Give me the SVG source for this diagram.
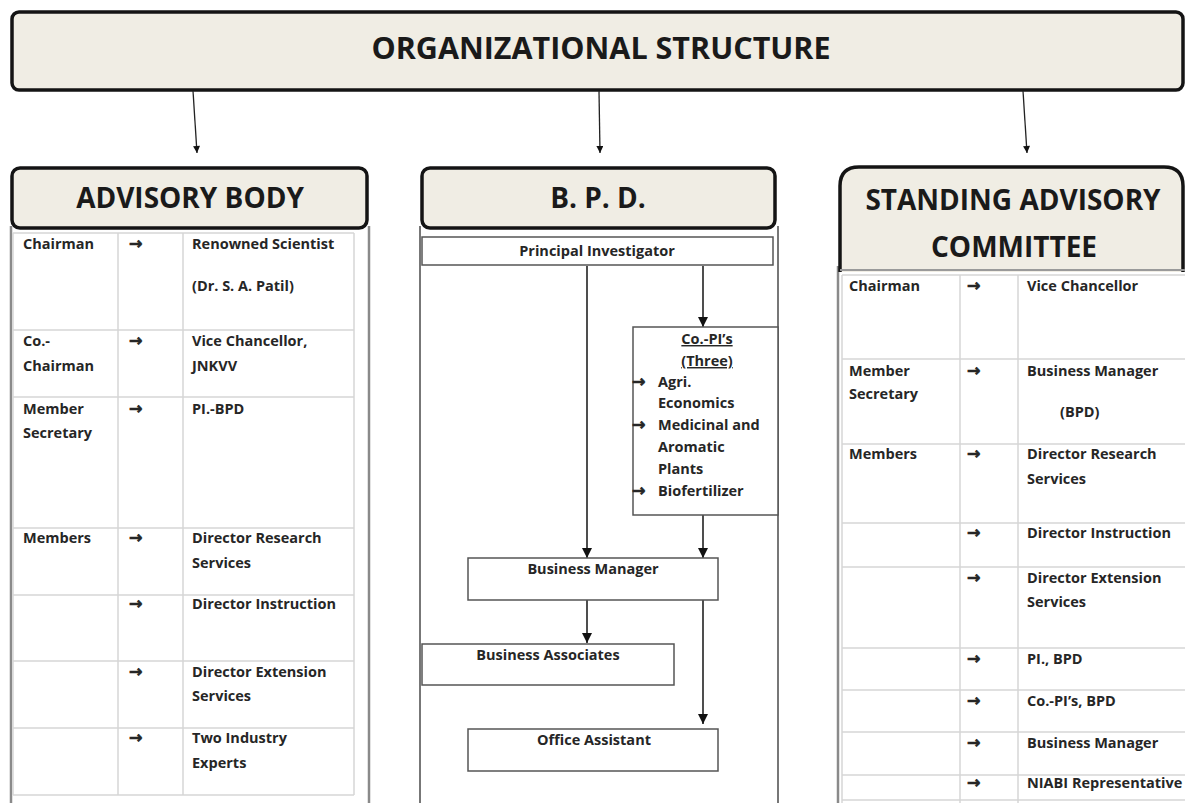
<svg xmlns="http://www.w3.org/2000/svg" width="1185" height="803" viewBox="0 0 1185 803">
  <defs>
    <marker id="tip" viewBox="0 0 10 10" refX="10" refY="5" markerWidth="9" markerHeight="7" markerUnits="userSpaceOnUse" orient="auto">
      <path d="M0,0 L10,5 L0,10 z" fill="#111"/>
    </marker>
    <marker id="tipBig" viewBox="0 0 10 10" refX="10" refY="5" markerWidth="11" markerHeight="10" markerUnits="userSpaceOnUse" orient="auto">
      <path d="M0,0 L10,5 L0,10 z" fill="#111"/>
    </marker>
    <style>
      .hdr { fill: #f0ede4; stroke: #141414; stroke-width: 3.5; }
      .htxt { font-family: "Open Sans", "Liberation Sans", sans-serif; font-weight: 700; fill: #1a1a1a; text-anchor: middle; }
      .t { font-family: "Open Sans", "DejaVu Sans", sans-serif; font-weight: 700; font-size: 14.5px; fill: #262626; }
      .ar { font-family: "DejaVu Sans", sans-serif; font-weight: 700; font-size: 16px; fill: #262626; stroke: #262626; stroke-width: 0.7; }
      .c { text-anchor: middle; }
      .grid { stroke: #d6d6d6; stroke-width: 1.5; fill: none; }
      .frame { stroke: #8a8a8a; stroke-width: 2.5; fill: none; }
      .bframe { stroke: #4a4a4a; stroke-width: 1.5; fill: none; }
      .box { fill: #fff; stroke: #555; stroke-width: 1.5; }
      .link { stroke: #222; stroke-width: 1.3; fill: none; }
      .link2 { stroke: #222; stroke-width: 1.6; fill: none; }
    </style>
  </defs>
  <rect width="1185" height="803" fill="#fff"/>

  <!-- top title -->
  <g id="title">
    <rect x="12" y="12" width="1171" height="78" rx="7" class="hdr"/>
    <text x="601" y="59" class="htxt" font-size="30.5">ORGANIZATIONAL STRUCTURE</text>
  </g>

  <!-- connectors -->
  <g id="connectors">
    <line x1="193" y1="91" x2="197" y2="153" class="link" marker-end="url(#tip)"/>
    <line x1="599" y1="91" x2="600" y2="153" class="link" marker-end="url(#tip)"/>
    <line x1="1023" y1="91" x2="1027" y2="153" class="link" marker-end="url(#tip)"/>
    <line x1="703" y1="266" x2="703" y2="327" class="link2" marker-end="url(#tipBig)"/>
    <line x1="587" y1="266" x2="587" y2="558" class="link2" marker-end="url(#tipBig)"/>
    <line x1="703" y1="515" x2="703" y2="558" class="link2" marker-end="url(#tipBig)"/>
    <line x1="587" y1="600" x2="587" y2="643" class="link2" marker-end="url(#tipBig)"/>
    <line x1="703" y1="600" x2="703" y2="724" class="link2" marker-end="url(#tipBig)"/>
  </g>

  <!-- advisory body -->
  <g id="advisory-body">
    <line x1="11" y1="226" x2="11" y2="803" class="frame"/>
    <line x1="369" y1="226" x2="369" y2="803" class="frame"/>
    <rect x="12" y="168" width="355" height="60" rx="8" class="hdr"/>
    <text x="190" y="208" class="htxt" font-size="28">ADVISORY BODY</text>
    <path class="grid" d="M13,233 H354 M13,330 H354 M13,397 H354 M13,528 H354 M13,595 H354 M13,661 H354 M13,728 H354 M13,795 H354 M13,233 V795 M118,233 V795 M183,233 V795 M354,233 V795"/>
    <g class="t">
      <text x="23" y="249">Chairman</text>
      <text x="192" y="249">Renowned Scientist</text>
      <text x="192" y="291">(Dr. S. A. Patil)</text>
      <text x="23" y="346">Co.-</text>
      <text x="23" y="371">Chairman</text>
      <text x="192" y="346">Vice Chancellor,</text>
      <text x="192" y="371">JNKVV</text>
      <text x="23" y="414">Member</text>
      <text x="23" y="438">Secretary</text>
      <text x="192" y="414">PI.-BPD</text>
      <text x="23" y="543">Members</text>
      <text x="192" y="543">Director Research</text>
      <text x="192" y="568">Services</text>
      <text x="192" y="609">Director Instruction</text>
      <text x="192" y="677">Director Extension</text>
      <text x="192" y="701">Services</text>
      <text x="192" y="743">Two Industry</text>
      <text x="192" y="768">Experts</text>
    </g>
    <g class="ar">
      <text x="129" y="249">→</text>
      <text x="129" y="346">→</text>
      <text x="129" y="414">→</text>
      <text x="129" y="543">→</text>
      <text x="129" y="609">→</text>
      <text x="129" y="677">→</text>
      <text x="129" y="743">→</text>
    </g>
  </g>

  <!-- B.P.D. -->
  <g id="bpd">
    <line x1="420" y1="226" x2="420" y2="803" class="bframe"/>
    <line x1="778" y1="226" x2="778" y2="803" class="bframe"/>
    <rect x="422" y="168" width="353" height="60" rx="8" class="hdr"/>
    <text x="598" y="208" class="htxt" font-size="28">B. P. D.</text>
  </g>
  <g id="principal-investigator">
    <rect x="422" y="237" width="351" height="28" class="box"/>
    <text x="597" y="256" class="t c">Principal Investigator</text>
  </g>
  <g id="co-pis">
    <rect x="633" y="327" width="145" height="188" class="box" stroke="#444"/>
    <g class="t">
      <text x="707" y="344" class="c" text-decoration="underline">Co.-PI’s</text>
      <text x="707" y="366" class="c" text-decoration="underline">(Three)</text>
      <text x="658" y="387">Agri.</text>
      <text x="658" y="408">Economics</text>
      <text x="658" y="430">Medicinal and</text>
      <text x="658" y="452">Aromatic</text>
      <text x="658" y="474">Plants</text>
      <text x="658" y="496">Biofertilizer</text>
    </g>
    <g class="ar">
      <text x="632" y="387">→</text>
      <text x="632" y="430">→</text>
      <text x="632" y="496">→</text>
    </g>
  </g>
  <g id="business-manager">
    <rect x="468" y="558" width="250" height="42" class="box"/>
    <text x="593" y="574" class="t c">Business Manager</text>
  </g>
  <g id="business-associates">
    <rect x="422" y="644" width="252" height="41" class="box"/>
    <text x="548" y="660" class="t c">Business Associates</text>
  </g>
  <g id="office-assistant">
    <rect x="468" y="729" width="250" height="42" class="box"/>
    <text x="594" y="745" class="t c">Office Assistant</text>
  </g>

  <!-- standing advisory committee -->
  <g id="standing-advisory-committee">
    <line x1="838" y1="266" x2="838" y2="803" class="frame"/>
    <path d="M840,272 V186 Q840,167 859,167 H1164 Q1183,167 1183,186 V272" class="hdr"/>
    <line x1="840" y1="270" x2="1185" y2="270" stroke="#9a9a9a" stroke-width="2"/>
    <text x="1013" y="210" class="htxt" font-size="28">STANDING ADVISORY</text>
    <text x="1014" y="257" class="htxt" font-size="28">COMMITTEE</text>
    <path class="grid" d="M842,275 H1185 M842,359 H1185 M842,444 H1185 M842,523 H1185 M842,567 H1185 M842,648 H1185 M842,690 H1185 M842,732 H1185 M842,775 H1185 M842,800 H1185 M842,275 V803 M960,275 V803 M1018,275 V803"/>
    <g class="t">
      <text x="849" y="291">Chairman</text>
      <text x="1027" y="291">Vice Chancellor</text>
      <text x="849" y="376">Member</text>
      <text x="849" y="399">Secretary</text>
      <text x="1027" y="376">Business Manager</text>
      <text x="1060" y="417">(BPD)</text>
      <text x="849" y="459">Members</text>
      <text x="1027" y="459">Director Research</text>
      <text x="1027" y="484">Services</text>
      <text x="1027" y="538">Director Instruction</text>
      <text x="1027" y="583">Director Extension</text>
      <text x="1027" y="607">Services</text>
      <text x="1027" y="664">PI.,  BPD</text>
      <text x="1027" y="706">Co.-PI’s, BPD</text>
      <text x="1027" y="748">Business Manager</text>
      <text x="1027" y="788">NIABI Representative</text>
    </g>
    <g class="ar">
      <text x="967" y="291">→</text>
      <text x="967" y="376">→</text>
      <text x="967" y="459">→</text>
      <text x="967" y="538">→</text>
      <text x="967" y="583">→</text>
      <text x="967" y="664">→</text>
      <text x="967" y="706">→</text>
      <text x="967" y="748">→</text>
      <text x="967" y="788">→</text>
    </g>
  </g>
</svg>
